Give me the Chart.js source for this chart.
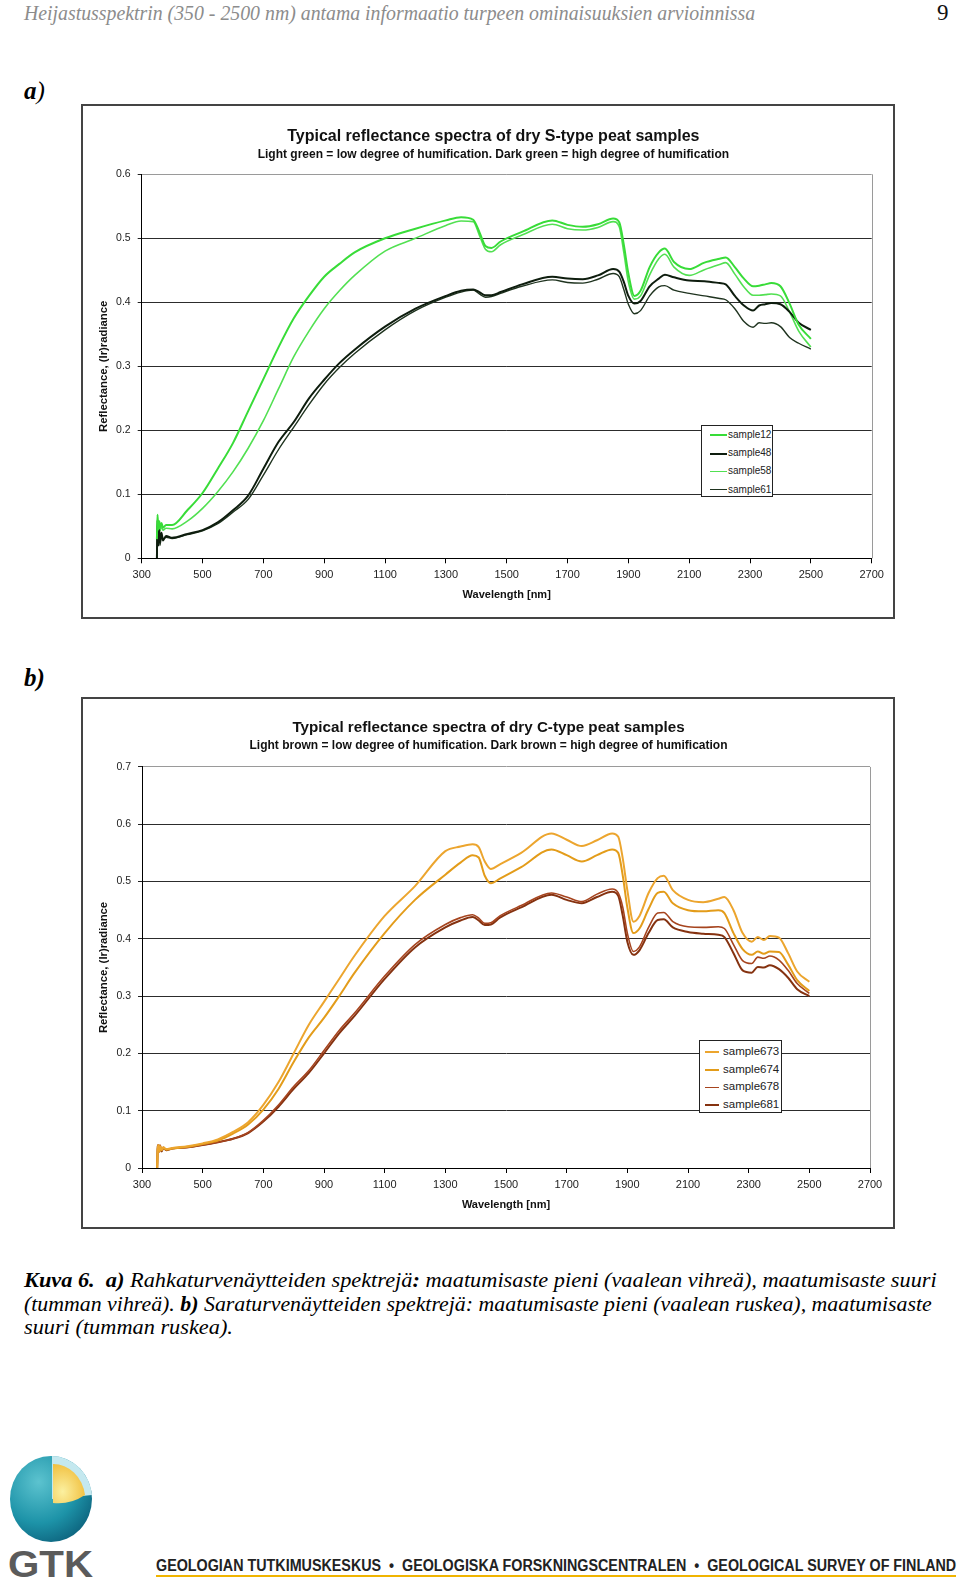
<!DOCTYPE html>
<html>
<head>
<meta charset="utf-8">
<script src="https://cdn.jsdelivr.net/npm/chart.js@4.4.1/dist/chart.umd.min.js"></script>
<style>
body { margin: 0; background: #fff; width: 960px; height: 1583px; position: relative; overflow: hidden; font-family: 'Liberation Serif', 'Times New Roman', serif; }
.abs { position: absolute; white-space: nowrap; transform-origin: 0 0; }
#head { left: 24px; top: 1px; font-size: 21px; line-height: 24px; font-style: italic; color: #8c8c8c; }
#page { left: 937px; top: 1px; font-size: 23px; line-height: 24px; color: #111; }
.lab { left: 24px; font-size: 25px; line-height: 26px; font-style: italic; color: #000; }
.box { position: absolute; left: 81px; width: 810px; border: 2px solid #444; background: #fff; }
.box canvas { display: block; }
.legend { position: absolute; border: 1px solid #222; background: #fff; font-family: 'Liberation Sans', Arial, sans-serif; color: #222; }
.legend .row { white-space: nowrap; }
.legend .ln { display: inline-block; vertical-align: middle; }
.cap { left: 24px; font-size: 21px; line-height: 24px; font-style: italic; color: #000; }
#foot { left: 156px; top: 1557px; font-family: 'Liberation Sans Narrow', 'Liberation Sans', Arial, sans-serif; font-weight: bold; font-size: 16px; line-height: 18px; color: #222; }
#footline { position: absolute; left: 156px; top: 1575px; width: 800px; height: 2px; background: #f0b400; }
#gtk { left: 8px; top: 1547px; font-family: 'Liberation Sans', Arial, sans-serif; font-weight: bold; font-size: 37px; line-height: 36px; color: #5b5b5b; }
</style>
</head>
<body>
<div id="head" class="abs">Heijastusspektrin (350 - 2500 nm) antama informaatio turpeen ominaisuuksien arvioinnissa</div>
<div id="page" class="abs">9</div>

<div class="abs lab" style="top:78px"><b>a</b>)</div>
<div class="box" style="top:104px;height:511px"><canvas id="chartA" width="810" height="511"></canvas></div>
<div id="legendA" class="legend" style="left:701px;top:425px;width:72px;height:72px;font-size:10px"></div>

<div class="abs lab" style="top:665px"><b>b)</b></div>
<div class="box" style="top:697px;height:528px"><canvas id="chartB" width="810" height="528"></canvas></div>
<div id="legendB" class="legend" style="left:699px;top:1040px;width:83px;height:73px;font-size:11.5px"></div>

<div id="cap1" class="abs cap" style="top:1268px"><b>Kuva 6.</b>&nbsp; <b>a)</b> Rahkaturvenäytteiden spektrejä<b>:</b> maatumisaste pieni (vaalean vihreä), maatumisaste suuri</div>
<div id="cap2" class="abs cap" style="top:1291.5px">(tumman vihreä). <b>b)</b> Saraturvenäytteiden spektrejä: maatumisaste pieni (vaalean ruskea), maatumisaste</div>
<div id="cap3" class="abs cap" style="top:1315px">suuri (tumman ruskea).</div>

<svg style="position:absolute;left:8px;top:1455px" width="86" height="88" viewBox="0 0 86 88">
  <defs>
    <radialGradient id="teal" cx="0.35" cy="0.3" r="0.8">
      <stop offset="0" stop-color="#5cc3cf"/>
      <stop offset="0.6" stop-color="#1d93a8"/>
      <stop offset="1" stop-color="#0c5f7a"/>
    </radialGradient>
    <radialGradient id="core" cx="0.3" cy="0.7" r="0.9">
      <stop offset="0" stop-color="#fbf0a0"/>
      <stop offset="1" stop-color="#efb52a"/>
    </radialGradient>
  </defs>
  <ellipse cx="43" cy="44" rx="41" ry="43" fill="url(#teal)"/>
  <path d="M44 44 L44 1 A41 43 0 0 1 84 40 Z" fill="#c4e8ef"/>
  <path d="M45 48 L45 9 A32 36 0 0 1 77 40 Q 62 50 45 48 Z" fill="url(#core)"/>
</svg>
<div id="gtk" class="abs">GTK</div>
<div id="foot" class="abs">GEOLOGIAN TUTKIMUSKESKUS &nbsp;&#8226;&nbsp; GEOLOGISKA FORSKNINGSCENTRALEN &nbsp;&#8226;&nbsp; GEOLOGICAL SURVEY OF FINLAND</div>
<div id="footline"></div>

<script>
// wavelengths (nm) shared by all spectra
const wavelengths = [350, 352, 355, 358, 360, 365, 370, 380, 400,
    450, 500, 550, 600, 650, 700, 750, 800, 850, 900, 950, 1000,
    1100, 1200, 1300, 1350, 1390, 1410, 1430, 1450, 1480, 1550,
    1650, 1700, 1750, 1800, 1850, 1870, 1885, 1900, 1920, 1940,
    1970, 2000, 2020, 2050, 2100, 2150, 2200, 2220, 2250, 2280,
    2310, 2330, 2350, 2370, 2400, 2430, 2460, 2500];

// a) S-type peat
const sample12 = [0.03, 0.068, 0.045, 0.058, 0.047, 0.055, 0.048, 0.052, 0.052,
    0.075, 0.102, 0.14, 0.18, 0.23, 0.28, 0.33, 0.375, 0.41, 0.44, 0.46, 0.478,
    0.50, 0.515, 0.528, 0.533, 0.529, 0.51, 0.488, 0.485, 0.495, 0.51,
    0.528, 0.521, 0.518, 0.522, 0.531, 0.525, 0.49, 0.445, 0.41, 0.418,
    0.455, 0.478, 0.484, 0.463, 0.452, 0.462, 0.468, 0.47, 0.455, 0.437,
    0.425, 0.426, 0.428, 0.43, 0.425, 0.398, 0.365, 0.343];
const sample48 = [0.0, 0.06, 0.02, 0.045, 0.025, 0.04, 0.028, 0.035, 0.032,
    0.038, 0.044, 0.056, 0.075, 0.098, 0.14, 0.182, 0.213, 0.25, 0.279, 0.305, 0.326,
    0.362, 0.39, 0.41, 0.418, 0.42, 0.416, 0.411, 0.411, 0.416, 0.428,
    0.44, 0.437, 0.436, 0.442, 0.452, 0.448, 0.432, 0.41, 0.398, 0.402,
    0.425, 0.437, 0.443, 0.439, 0.434, 0.433, 0.43, 0.428, 0.41, 0.395,
    0.387, 0.395, 0.397, 0.399, 0.397, 0.385, 0.368, 0.357];
const sample58 = [0.028, 0.06, 0.04, 0.052, 0.043, 0.05, 0.044, 0.047, 0.046,
    0.058, 0.078, 0.104, 0.135, 0.172, 0.215, 0.265, 0.315, 0.355, 0.39, 0.418, 0.442,
    0.48, 0.50, 0.52, 0.527, 0.526, 0.505, 0.483, 0.479, 0.49, 0.505,
    0.522, 0.515, 0.513, 0.517, 0.526, 0.518, 0.478, 0.432, 0.405, 0.41,
    0.443, 0.468, 0.475, 0.455, 0.442, 0.451, 0.459, 0.462, 0.444, 0.424,
    0.411, 0.411, 0.412, 0.413, 0.41, 0.385, 0.355, 0.33];
const sample61 = [0.0, 0.05, 0.03, 0.04, 0.02, 0.035, 0.03, 0.033, 0.031,
    0.037, 0.043, 0.054, 0.072, 0.092, 0.13, 0.17, 0.205, 0.24, 0.272, 0.298, 0.32,
    0.357, 0.387, 0.408, 0.416, 0.419, 0.413, 0.408, 0.409, 0.414, 0.425,
    0.435, 0.431, 0.43, 0.436, 0.445, 0.44, 0.42, 0.397, 0.382, 0.387,
    0.41, 0.424, 0.426, 0.419, 0.414, 0.41, 0.406, 0.404, 0.39, 0.37,
    0.361, 0.368, 0.367, 0.368, 0.362, 0.345, 0.336, 0.327];

// b) C-type peat
const sample673 = [0.0, 0.035, 0.04, 0.03, 0.038, 0.032, 0.036, 0.033, 0.035,
    0.038, 0.043, 0.05, 0.063, 0.08, 0.11, 0.15, 0.2, 0.25, 0.29, 0.33, 0.37,
    0.44, 0.492, 0.553, 0.561, 0.565, 0.56, 0.535, 0.522, 0.53, 0.55,
    0.584, 0.573, 0.562, 0.572, 0.584, 0.578, 0.54, 0.485, 0.43, 0.44,
    0.48, 0.506, 0.51, 0.485, 0.468, 0.464, 0.47, 0.473, 0.45, 0.41,
    0.395, 0.403, 0.398, 0.405, 0.402, 0.375, 0.343, 0.325];
const sample674 = [0.0, 0.033, 0.038, 0.029, 0.037, 0.031, 0.035, 0.032, 0.034,
    0.037, 0.042, 0.048, 0.06, 0.076, 0.102, 0.138, 0.185, 0.228, 0.262, 0.3, 0.34,
    0.41, 0.468, 0.512, 0.533, 0.546, 0.542, 0.51, 0.497, 0.505, 0.525,
    0.556, 0.546, 0.535, 0.546, 0.556, 0.55, 0.51, 0.455, 0.41, 0.418,
    0.452, 0.48, 0.482, 0.462, 0.45, 0.448, 0.45, 0.445, 0.41, 0.382,
    0.372, 0.378, 0.374, 0.378, 0.377, 0.355, 0.328, 0.309];
const sample678 = [0.0, 0.04, 0.036, 0.028, 0.04, 0.03, 0.036, 0.032, 0.034,
    0.036, 0.04, 0.045, 0.051, 0.062, 0.083, 0.11, 0.142, 0.17, 0.205, 0.24, 0.27,
    0.335, 0.39, 0.425, 0.437, 0.442, 0.436, 0.427, 0.428, 0.44, 0.458,
    0.48, 0.473, 0.465, 0.478, 0.487, 0.48, 0.455, 0.41, 0.378, 0.386,
    0.42, 0.445, 0.446, 0.43, 0.421, 0.42, 0.421, 0.418, 0.39, 0.362,
    0.357, 0.368, 0.366, 0.37, 0.363, 0.345, 0.322, 0.305];
const sample681 = [0.0, 0.038, 0.04, 0.03, 0.036, 0.029, 0.035, 0.031, 0.034,
    0.036, 0.04, 0.045, 0.051, 0.061, 0.081, 0.107, 0.138, 0.166, 0.2, 0.235, 0.265,
    0.33, 0.385, 0.42, 0.432, 0.438, 0.432, 0.424, 0.425, 0.437, 0.455,
    0.477, 0.468, 0.462, 0.473, 0.482, 0.475, 0.44, 0.395, 0.372, 0.38,
    0.41, 0.433, 0.434, 0.42, 0.412, 0.409, 0.407, 0.403, 0.375, 0.345,
    0.341, 0.351, 0.35, 0.354, 0.347, 0.332, 0.312, 0.3];

const FONT = "'Liberation Sans', Arial, sans-serif";

function series(label, values, color, width) {
    return {
        label: label,
        data: wavelengths.map((w, i) => ({ x: w, y: values[i] })),
        borderColor: color,
        borderWidth: width,
        pointRadius: 0,
        cubicInterpolationMode: 'monotone',
        fill: false
    };
}

// gray right edge of the plot area
const plotFrame = {
    id: 'plotFrame',
    beforeDatasetsDraw(chart) {
        const a = chart.chartArea, ctx = chart.ctx;
        ctx.save();
        ctx.strokeStyle = '#9a9a9a';
        ctx.lineWidth = 1;
        ctx.beginPath();
        ctx.moveTo(Math.round(a.right) + 0.5, a.top);
        ctx.lineTo(Math.round(a.right) + 0.5, a.bottom);
        ctx.stroke();
        ctx.restore();
    }
};

// Excel centres the titles over the whole chart box, not the padded area
function titleShift(dx) {
    return {
        id: 'titleShift',
        afterLayout(chart) {
            chart.boxes.forEach(b => {
                if (b.options && typeof b.options.text === 'string') {
                    b.left += dx;
                    b.right += dx;
                }
            });
        }
    };
}

function createChart(id, title, subtitle, yMax, datasets, g) {
    const ctx = document.getElementById(id).getContext('2d');
    return new Chart(ctx, {
        type: 'line',
        data: { datasets: datasets },
        plugins: [plotFrame, titleShift(g.shift)],
        options: {
            responsive: false,
            animation: false,
            layout: { padding: { left: 0, right: g.right, top: 0, bottom: 0 } },
            plugins: {
                legend: { display: false },
                tooltip: { enabled: false },
                title: {
                    display: true, text: title, color: '#111',
                    font: { family: FONT, size: g.titleSize, weight: 'bold' },
                    padding: { top: g.titleTop, bottom: g.titleBottom }
                },
                subtitle: {
                    display: true, text: subtitle, color: '#111',
                    font: { family: FONT, size: 12, weight: 'bold' },
                    padding: { top: 0, bottom: g.subBottom }
                }
            },
            scales: {
                x: {
                    type: 'linear', min: 300, max: 2700,
                    afterFit: s => { s.height = g.xHeight; },
                    border: { color: '#000', width: 1 },
                    grid: { drawOnChartArea: false, drawTicks: true, tickLength: 5, color: '#000' },
                    ticks: {
                        stepSize: 200, color: '#222', padding: 5, maxRotation: 0,
                        font: { family: FONT, size: 11 },
                        callback: v => String(v)
                    },
                    title: {
                        display: true, text: 'Wavelength [nm]', color: '#111',
                        font: { family: FONT, size: 11, weight: 'bold' },
                        padding: { top: 0, bottom: 15.4 }
                    }
                },
                y: {
                    min: 0, max: yMax,
                    afterFit: s => { s.width = g.yWidth; },
                    border: { color: '#000', width: 1 },
                    grid: {
                        color: c => (c.tick && Math.abs(c.tick.value - yMax) < 1e-9) ? '#9a9a9a' : '#2c2c2c',
                        tickColor: '#222', tickLength: 4
                    },
                    ticks: { stepSize: 0.1, color: '#222', padding: 7, font: { family: FONT, size: 10.5 } },
                    title: {
                        display: true, text: 'Reflectance, (Ir)radiance', color: '#111',
                        font: { family: FONT, size: 11.3, weight: 'bold' },
                        padding: { top: 14.2, bottom: 0 }
                    }
                }
            }
        }
    });
}

function buildLegend(id, chart, o) {
    const box = document.getElementById(id);
    box.style.paddingTop = o.padTop + 'px';
    box.style.boxSizing = 'border-box';
    chart.data.datasets.forEach(ds => {
        const row = document.createElement('div');
        row.className = 'row';
        row.style.height = o.rowH + 'px';
        row.style.lineHeight = o.rowH + 'px';
        row.innerHTML = '<span class="ln" style="margin-left:' + o.lineLeft + 'px;margin-right:' + o.gap +
            'px;width:' + o.lineW + 'px;border-top:' + ds.borderWidth + 'px solid ' + ds.borderColor + '"></span>' + ds.label;
        box.appendChild(row);
    });
}

const chartA = createChart('chartA',
    'Typical reflectance spectra of dry S-type peat samples',
    'Light green = low degree of humification. Dark green = high degree of humification',
    0.6,
    [
        series('sample12', sample12, '#38dc38', 2),
        series('sample48', sample48, '#0e1d0e', 2),
        series('sample58', sample58, '#52e052', 1.6),
        series('sample61', sample61, '#1f331f', 1.4)
    ],
    { right: 21.3, yWidth: 58.7, xHeight: 58.7, titleSize: 16, titleTop: 21.4, titleBottom: 1.2, subBottom: 12.1, shift: 16 });

const chartB = createChart('chartB',
    'Typical reflectance spectra of dry C-type peat samples',
    'Light brown = low degree of humification. Dark brown = high degree of humification',
    0.7,
    [
        series('sample673', sample673, '#eca52e', 2),
        series('sample674', sample674, '#e39c1a', 2),
        series('sample678', sample678, '#a6441e', 1.6),
        series('sample681', sample681, '#853210', 2)
    ],
    { right: 23, yWidth: 59, xHeight: 59, titleSize: 15.2, titleTop: 19.7, titleBottom: 1.4, subBottom: 14.2, shift: 12 });

buildLegend('legendA', chartA, { padTop: 0, rowH: 18.2, lineLeft: 8, lineW: 17, gap: 1 });
buildLegend('legendB', chartB, { padTop: 2, rowH: 17.7, lineLeft: 5, lineW: 14, gap: 4 });

// squeeze page texts to the widths of the condensed original fonts
function fit(id, w) {
    const el = document.getElementById(id);
    el.style.transform = 'scaleX(' + (w / el.offsetWidth) + ')';
    return w / el.offsetWidth;
}
fit('head', 731);
const k = fit('cap1', 913);
fit('cap2', 908);
document.getElementById('cap3').style.transform = 'scaleX(' + k + ')';
fit('foot', 800);
fit('gtk', 85);
</script>
</body>
</html>
